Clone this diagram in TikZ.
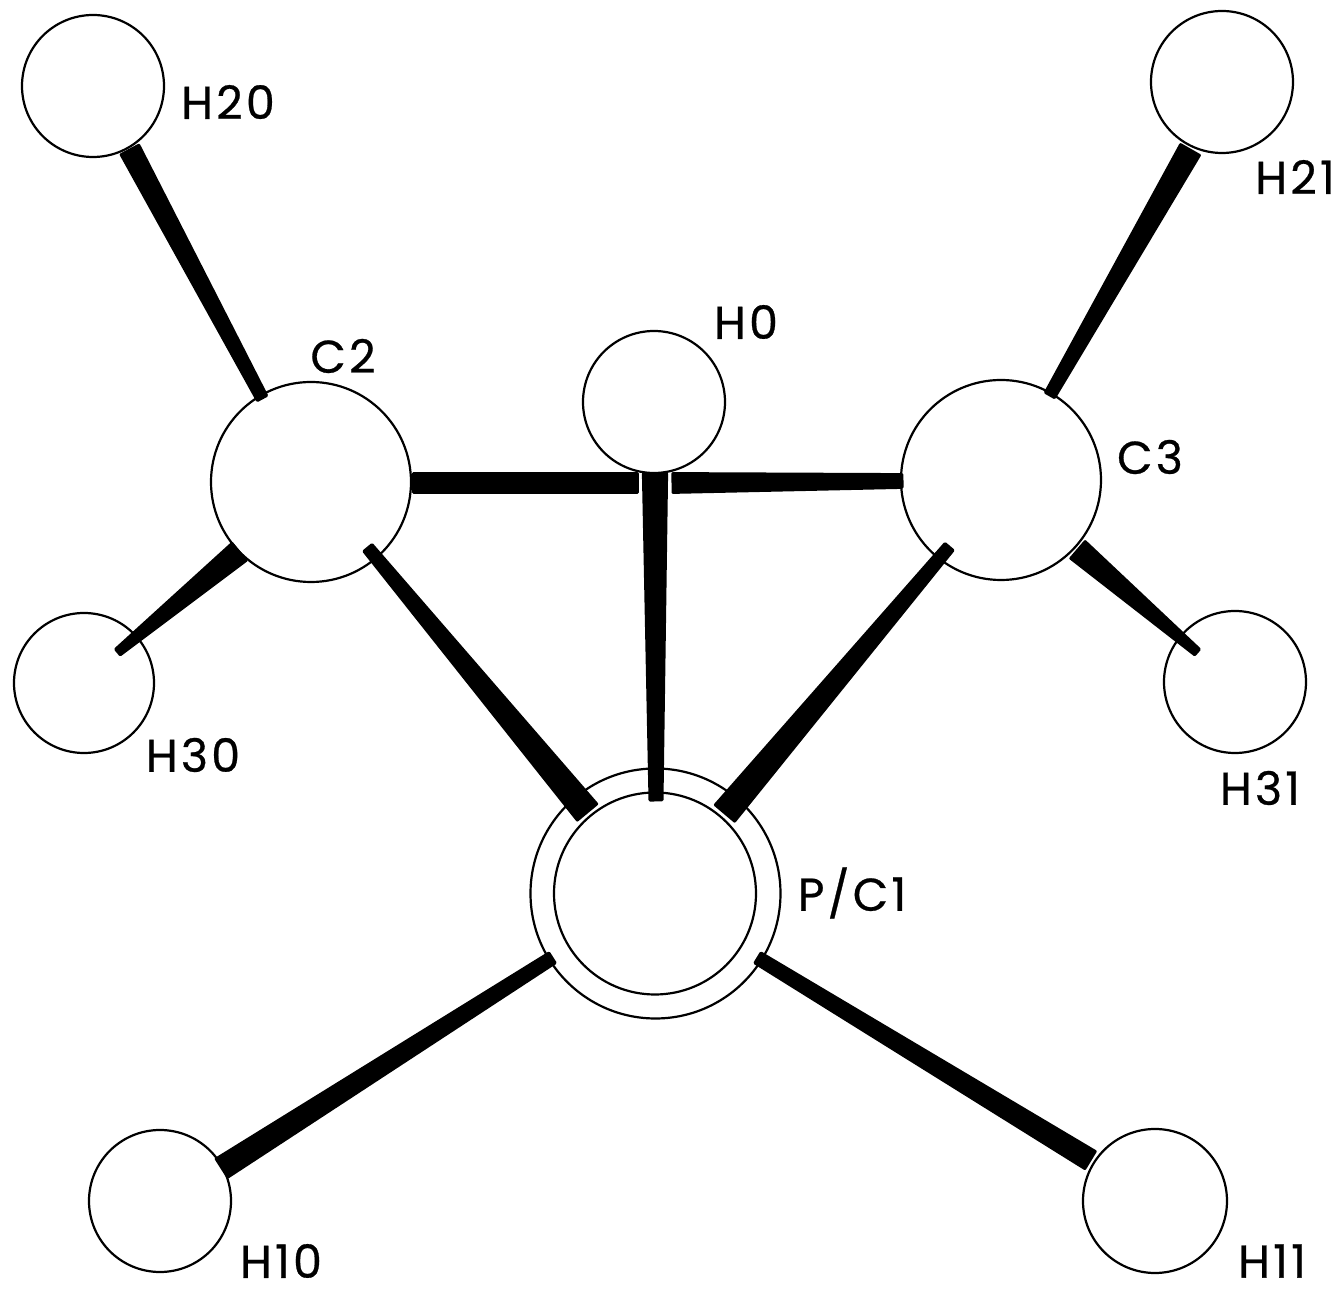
\documentclass[tikz,border=0pt]{standalone}
\usepackage{fontspec}
\setmainfont[LetterSpace=7,FakeBold=0.6]{Poppins}
\usetikzlibrary{calc}
\tikzset{
  atom/.style={circle,draw=black,line width=1.1pt,inner sep=0pt,fill=none},
  lab/.style={font=\fontsize{23}{23}\selectfont,inner sep=0pt,text=black},
  bond/.style={fill=black,draw=black,line width=1.5pt,line join=round}
}
% wedge between two named coordinates; half widths given in pt
\newcommand{\wedgebond}[4]{%
  \filldraw[bond] ($(#1)!#3!90:(#2)$) -- ($(#1)!#3!-90:(#2)$) -- ($(#2)!#4!90:(#1)$) -- ($(#2)!#4!-90:(#1)$) -- cycle;}
\begin{document}
\begin{tikzpicture}[x=0.5pt,y=-0.5pt]
\useasboundingbox (0,0) rectangle (1341,1293);
% atoms
\node[atom,minimum size=71pt] (H20) at (93,86) {};
\node[atom,minimum size=71pt] (H21) at (1222,82) {};
\node[atom,minimum size=100pt] (C2) at (311,482) {};
\node[atom,minimum size=100pt] (C3) at (1001,480) {};
\node[atom,minimum size=71pt] (H0) at (654,402) {};
\node[atom,minimum size=70pt] (H30) at (84,683) {};
\node[atom,minimum size=71pt] (H31) at (1235,682) {};
\node[atom,minimum size=101pt] (P) at (655,893.5) {};
\node[atom,minimum size=125pt] (Pouter) at (655.5,893.5) {};
\node[atom,minimum size=71pt] (H10) at (160,1201) {};
\node[atom,minimum size=72pt] (H11) at (1155,1201) {};
% bond ends
\coordinate (a1) at (130,150); \coordinate (a2) at (262,398);
\coordinate (b1) at (1190,150); \coordinate (b2) at (1050,395);
\coordinate (c1) at (413,483); \coordinate (c2) at (637,483);
\coordinate (d1) at (673,483); \coordinate (d2) at (902,481);
\coordinate (e1) at (655,474); \coordinate (e2) at (656,800);
\coordinate (f1) at (368,548); \coordinate (f2) at (587,812);
\coordinate (g1) at (949,547); \coordinate (g2) at (725,813);
\coordinate (h1) at (239,552); \coordinate (h2) at (118,652);
\coordinate (i1) at (1078,550); \coordinate (i2) at (1197,652);
\coordinate (j1) at (552,958); \coordinate (j2) at (222,1168);
\coordinate (k1) at (758,958); \coordinate (k2) at (1090,1160);
% bonds
\wedgebond{a1}{a2}{5pt}{2.6pt}
\wedgebond{b1}{b2}{5.4pt}{2.6pt}
\wedgebond{c1}{c2}{4.7pt}{4.7pt}
\wedgebond{d1}{d2}{4.7pt}{3.2pt}
\wedgebond{e1}{e2}{5.8pt}{3pt}
\wedgebond{f2}{f1}{6.3pt}{2.6pt}
\wedgebond{g2}{g1}{6.3pt}{2.6pt}
\wedgebond{h1}{h2}{5.5pt}{1.8pt}
\wedgebond{i1}{i2}{5.5pt}{1.8pt}
\wedgebond{j2}{j1}{5.4pt}{2.9pt}
\wedgebond{k2}{k1}{5pt}{2.9pt}
% labels
\node[lab] (lH20) at (228,102) {H20};
\node[lab] (lH21) at (1295,177) {H21};
\node[lab] (lC2) at (343,356) {C2};
\node[lab] (lH0) at (746,322) {H0};
\node[lab] (lC3) at (1150,457) {C3};
\node[lab] (lH30) at (193,755) {H30};
\node[lab] (lH31) at (1260,788) {H31};
\node[lab] (lP) at (852,893) {P/C1};
\node[lab] (lH10) at (281,1261) {H10};
\node[lab] (lH11) at (1272,1261) {H11};
\end{tikzpicture}
\end{document}
